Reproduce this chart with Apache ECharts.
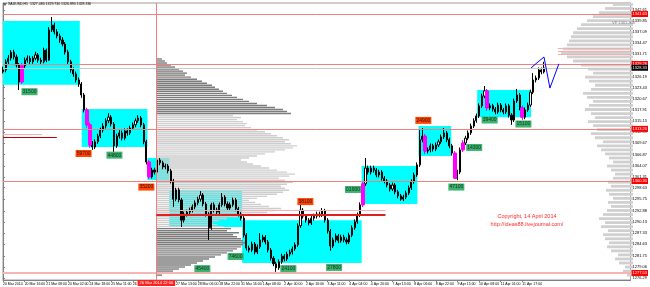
<!DOCTYPE html>
<html><head><meta charset="utf-8">
<script src="https://cdn.jsdelivr.net/npm/echarts@6/dist/echarts.min.js"></script>
<style>html,body{margin:0;padding:0;background:#fff}#c{width:650px;height:287px}</style>
</head><body><div id="c"></div>
<script>
// ---------- data ----------
const xTickLabels = ["20 Mar 2014","20 Mar 16:00","21 Mar 08:00","24 Mar 02:00","24 Mar 18:00","25 Mar 11:00","26 Mar 03:00","","27 Mar 13:00","28 Mar 06:00","28 Mar 22:00","31 Mar 16:00","1 Apr 08:00","2 Apr 00:00","2 Apr 16:00","3 Apr 11:00","4 Apr 04:00","4 Apr 20:00","7 Apr 13:00","8 Apr 06:00","8 Apr 22:00","9 Apr 15:00","10 Apr 08:00","11 Apr 01:00","11 Apr 17:00"];
const yTicks = [1276.29,1279.06,1281.75,1284.63,1287.33,1290.13,1292.88,1295.75,1298.63,1301.31,1304.07,1306.87,1309.67,1312.39,1315.15,1317.91,1320.67,1323.43,1326.19,1331.71,1334.47,1337.09,1339.85,1342.61];
// 2-hour candles: [open, close, low, high]
const candles = [
[1327.3,1327.8,1326.9,1328.6],[1327.8,1329.8,1327.2,1330.4],[1329.8,1330.7,1329.2,1331.5],[1330.7,1332.2,1330.1,1332.7],
[1332.2,1331.0,1330.4,1332.8],[1331.0,1329.0,1328.4,1331.6],[1329.0,1324.8,1322.8,1329.5],[1324.8,1328.8,1324.3,1329.4],
[1328.8,1330.2,1328.3,1330.9],[1330.2,1330.7,1329.6,1331.4],[1330.7,1329.8,1329.1,1331.3],[1329.8,1330.7,1329.3,1331.2],
[1330.7,1331.5,1330.2,1332.3],[1331.5,1330.2,1329.6,1332.0],[1330.2,1329.8,1329.0,1330.8],[1329.8,1332.7,1329.4,1333.3],
[1332.7,1330.2,1329.7,1333.1],[1330.2,1337.7,1330.0,1338.4],[1337.7,1338.9,1337.2,1340.9],[1338.9,1337.2,1336.6,1339.5],
[1337.2,1336.2,1335.6,1337.9],[1336.2,1335.2,1334.5,1336.8],[1335.2,1334.2,1333.6,1335.9],[1334.2,1332.2,1331.6,1334.7],
[1332.2,1329.8,1329.1,1332.8],[1329.8,1327.8,1327.1,1330.3],[1327.8,1326.8,1326.1,1328.4],[1326.8,1325.3,1324.7,1327.4],
[1325.3,1324.3,1323.6,1325.9],[1324.3,1321.6,1320.9,1324.8],[1321.6,1317.9,1317.3,1322.1],[1317.9,1314.2,1313.6,1318.4],
[1314.2,1309.2,1308.6,1314.7],[1309.2,1308.7,1308.0,1310.2],[1308.7,1310.0,1308.2,1310.6],[1310.0,1311.4,1309.5,1312.0],
[1311.4,1312.9,1310.9,1313.5],[1312.9,1313.9,1312.3,1314.6],[1313.9,1315.2,1313.3,1315.8],[1315.2,1316.1,1314.6,1317.1],
[1316.1,1314.4,1313.8,1316.6],[1314.4,1309.0,1306.2,1314.9],[1309.0,1311.4,1308.5,1312.0],[1311.4,1312.2,1310.8,1312.9],
[1312.2,1310.9,1310.3,1312.8],[1310.9,1312.7,1310.4,1313.3],[1312.7,1312.2,1311.5,1313.3],[1312.2,1313.4,1311.7,1314.0],
[1313.4,1314.2,1312.9,1314.8],[1314.2,1315.2,1313.6,1315.8],[1315.2,1315.9,1314.7,1316.6],[1315.9,1314.2,1313.6,1316.4],
[1314.2,1310.0,1309.4,1314.7],[1310.0,1305.0,1304.4,1310.5],[1305.0,1301.3,1300.8,1305.5],[1301.3,1303.0,1300.9,1303.6],
[1303.0,1302.5,1301.9,1303.6],[1302.5,1305.5,1302.0,1306.2],[1305.5,1304.8,1304.2,1306.0],[1304.8,1303.8,1303.2,1305.3],
[1303.8,1304.0,1303.2,1304.6],[1304.0,1302.8,1302.2,1304.5],[1302.8,1300.3,1299.7,1303.3],[1300.3,1295.8,1293.9,1300.8],
[1295.8,1298.1,1295.3,1298.6],[1298.1,1295.6,1295.0,1298.6],[1295.6,1290.6,1288.9,1296.1],[1290.6,1292.1,1290.0,1292.7],
[1292.1,1292.6,1291.5,1293.2],[1292.6,1293.1,1292.0,1293.7],[1293.1,1293.9,1292.5,1294.5],[1293.9,1294.9,1293.3,1295.5],
[1294.9,1295.8,1294.3,1296.4],[1295.8,1296.8,1295.2,1297.8],[1296.8,1294.6,1294.0,1297.3],[1294.6,1292.1,1291.5,1295.1],
[1292.1,1288.7,1285.7,1292.6],[1288.7,1294.4,1288.2,1294.9],[1294.4,1293.1,1292.5,1295.0],[1293.1,1292.6,1292.0,1293.7],
[1292.6,1294.4,1292.1,1295.0],[1294.4,1296.3,1293.9,1297.3],[1296.3,1294.6,1294.0,1296.8],[1294.6,1293.6,1293.0,1295.2],
[1293.6,1294.4,1293.0,1295.0],[1294.4,1295.6,1293.9,1296.2],[1295.6,1293.4,1292.8,1296.1],[1293.4,1292.1,1291.5,1293.9],
[1292.1,1291.1,1290.5,1292.6],[1291.1,1286.9,1286.3,1291.6],[1286.9,1283.7,1283.1,1287.4],[1283.7,1283.2,1282.6,1284.3],
[1283.2,1284.7,1282.7,1285.3],[1284.7,1282.7,1282.1,1285.2],[1282.7,1284.0,1282.2,1284.6],[1284.0,1285.7,1283.5,1287.4],
[1285.7,1286.4,1285.1,1287.0],[1286.4,1285.2,1284.6,1286.9],[1285.2,1283.2,1282.6,1285.7],[1283.2,1281.2,1280.6,1283.7],
[1281.2,1279.8,1279.2,1281.7],[1279.8,1278.8,1277.8,1280.3],[1278.8,1280.3,1278.3,1280.9],[1280.3,1281.7,1279.8,1282.3],
[1281.7,1281.0,1280.4,1282.2],[1281.0,1282.2,1280.5,1282.8],[1282.2,1282.7,1281.6,1283.3],[1282.7,1283.5,1282.1,1284.1],
[1283.5,1284.5,1283.0,1285.1],[1284.5,1289.2,1284.0,1289.8],[1289.2,1293.1,1288.7,1294.4],[1293.1,1291.6,1291.0,1293.6],
[1291.6,1290.6,1290.0,1292.1],[1290.6,1289.9,1289.3,1291.1],[1289.9,1291.1,1289.4,1291.7],[1291.1,1291.6,1290.5,1292.2],
[1291.6,1292.1,1291.0,1292.7],[1292.1,1291.9,1291.3,1292.7],[1291.9,1292.9,1291.4,1293.6],[1292.9,1290.6,1290.0,1293.4],
[1290.6,1287.9,1287.3,1291.1],[1287.9,1284.2,1283.0,1288.4],[1284.2,1285.7,1283.7,1286.3],[1285.7,1286.7,1285.1,1287.3],
[1286.7,1285.5,1284.9,1287.2],[1285.5,1286.4,1285.0,1287.0],[1286.4,1285.7,1285.1,1287.0],[1285.7,1285.2,1284.6,1286.3],
[1285.2,1286.9,1284.7,1287.5],[1286.9,1288.7,1286.4,1289.3],[1288.7,1290.2,1288.2,1290.8],[1290.2,1291.9,1289.7,1292.5],
[1291.9,1294.4,1291.4,1295.0],[1294.4,1299.6,1293.9,1300.2],[1299.6,1303.5,1299.1,1306.0],[1303.5,1302.5,1301.9,1304.1],
[1302.5,1303.5,1301.9,1304.1],[1303.5,1303.0,1302.4,1304.1],[1303.0,1301.8,1301.2,1303.5],[1301.8,1302.5,1301.2,1303.1],
[1302.5,1301.0,1300.4,1303.0],[1301.0,1300.3,1299.7,1301.5],[1300.3,1299.3,1298.7,1300.8],[1299.3,1298.3,1297.7,1299.8],
[1298.3,1299.3,1297.8,1299.9],[1299.3,1297.6,1297.0,1299.8],[1297.6,1296.6,1296.0,1298.1],[1296.6,1295.8,1295.4,1297.1],
[1295.8,1296.3,1295.3,1296.9],[1296.3,1297.3,1295.8,1297.9],[1297.3,1298.6,1296.8,1299.2],[1298.6,1300.1,1298.1,1300.7],
[1300.1,1301.8,1299.6,1302.4],[1301.8,1304.3,1301.3,1304.9],[1304.3,1310.5,1303.8,1312.9],[1310.5,1311.4,1309.9,1313.4],
[1311.4,1307.7,1307.1,1311.9],[1307.7,1308.0,1307.1,1308.6],[1308.0,1309.0,1307.4,1309.6],[1309.0,1308.2,1307.6,1309.5],
[1308.2,1309.2,1307.7,1309.8],[1309.2,1310.0,1308.7,1310.6],[1310.0,1311.2,1309.5,1311.8],[1311.2,1312.2,1310.7,1313.4],
[1312.2,1310.5,1309.9,1312.7],[1310.5,1309.0,1308.4,1311.0],[1309.0,1307.2,1306.6,1309.5],[1307.2,1301.0,1300.8,1307.7],
[1301.0,1302.5,1300.5,1303.1],[1302.5,1308.0,1302.0,1308.6],[1308.0,1309.7,1307.5,1310.3],[1309.7,1310.9,1309.2,1311.5],
[1310.9,1312.2,1310.4,1312.8],[1312.2,1313.9,1311.7,1314.5],[1313.9,1315.2,1313.4,1315.8],[1315.2,1316.4,1314.7,1317.0],
[1316.4,1318.9,1315.9,1319.5],[1318.9,1321.3,1318.4,1321.9],[1321.3,1322.6,1320.8,1323.8],[1322.6,1318.4,1317.8,1323.0],
[1318.4,1318.9,1317.8,1319.5],[1318.9,1318.1,1317.5,1319.4],[1318.1,1317.4,1316.8,1318.6],[1317.4,1319.1,1316.9,1319.7],
[1319.1,1317.9,1317.3,1319.6],[1317.9,1317.4,1316.8,1318.4],[1317.4,1318.9,1316.9,1319.5],[1318.9,1316.6,1316.0,1319.4],
[1316.6,1315.4,1314.2,1317.1],[1315.4,1320.1,1314.9,1320.7],[1320.1,1321.6,1319.6,1323.1],[1321.6,1318.4,1317.8,1322.1],
[1318.4,1316.1,1315.5,1318.9],[1316.1,1317.9,1315.6,1318.5],[1317.9,1319.1,1317.4,1319.7],[1319.1,1322.3,1318.6,1322.9],
[1322.3,1325.3,1321.8,1327.0],[1325.3,1325.8,1324.7,1326.4],[1325.8,1327.8,1325.3,1328.4],[1327.8,1327.3,1326.7,1328.4],
[1327.3,1328.3,1326.9,1329.8]
];
const magentaIdx = [7,31,32,54,133,156,167,170,179,192];
// cyan zones: [xStart, priceTop, xEnd, priceBottom] (x in 2h-bar index)
const zones = [[0,1339.9,28.4,1324.1],[29.1,1318.1,53.4,1308.7],[53.4,1306.0,61.5,1300.5],[61.5,1298.1,88.4,1288.9],
  [88.4,1290.6,132.6,1280.0],[132.6,1304.0,153.2,1294.6],[153.6,1313.9,165.7,1306.5],[175.3,1322.8,195.2,1316.1]];
// volume tags: [x, price, text, kind]
const tags = [[9.8,1322.4,'31500','g'],[29.8,1307.1,'59700','r'],[41.2,1306.7,'44800','g'],[53.0,1298.8,'35200','r'],
  [73.7,1278.6,'45400','g'],[86.0,1281.6,'74600','g'],[105.5,1278.6,'24100','g'],[122.4,1278.9,'27800','g'],
  [111.8,1295.2,'38100','r'],[129.4,1298.2,'01900','g'],[155.4,1315.3,'24900','r'],[167.6,1298.8,'47100','g'],
  [174.2,1308.6,'14300','g'],[179.9,1315.4,'39400','g'],[192.4,1314.4,'15100','g']];
const redLevels = [1341.63,1329.26,1313.2,1300.30];
const bottomLevel = 1277.53;
const lastPrice = 1328.33;
const sepX = 56.7, sepLabel = '26 Mar 2014 22:00';
const projX = [195.2,200.0,202.2,205.5];
const projY = [1328.3,1331.0,1323.3,1329.3];
const prof1Start = 1277.0, prof1Step = 0.5;
const prof1Vol = [5,10,16,22, 28,34,40,46, 52,58,64,70, 76,80,84,86, 88,86,84,80, 76,82,70,74, 66,60,56,62,
  70,82,95,110, 118,124,112,104, 98,92,100,110, 120,126,132,128, 124,130,136,128, 122,132,138,130, 120,112,104,96,
  90,84,92,100, 108,118,128,136, 140,134,128,132, 126,120,114,108, 100,94,88,90, 86,80,84,76, 134,130,126,118,
  110,100,92,86, 80,75,70,66, 62,58,55,50, 45,40,34,28, 30,26,22,18, 14,10,8,5];
const prof1DarkBelow = 1288.5, prof1DarkAbove = 1317.0;
const prof2Start = 1277, prof2Step = 1;
const prof2Vol = [6,10,8,14,18,15,22,26,24,28,30,25,32,28,34,30,26,22,25,20,24,27,22,25,20,18,22,26,20,24,28,32,36,30,
  38,42,36,40,45,38,42,48,44,40,46,50,42,38,44,48,40,45,52,60,66,72,70,66,64,62,60,56,52,46,40,34,28,20];

// ---------- chart ----------
const N = 233, YMIN = 1275.79, YMAX = 1344.36;
const cats = Array.from({length: N}, (_, i) => String(i));
const showTick = (i) => i % 8 === 0 && i / 8 < xTickLabels.length && xTickLabels[i / 8] !== '';
const chart = echarts.init(document.getElementById('c'));

function profileRender(colorFn, h) {
  return function (params, api) {
    const vol = api.value(0), lvl = api.value(1);
    const a = api.coord([0, lvl]), b = api.coord([vol, lvl]);
    return {type: 'rect', shape: {x: Math.min(a[0], b[0]), y: a[1] - h / 2, width: Math.abs(b[0] - a[0]), height: h},
      style: {fill: colorFn(lvl)}};
  };
}
const axisTag = (txt, bg) => ({show: true, position: 'end', distance: 1, formatter: txt, backgroundColor: bg, color: '#fff', fontSize: 4, padding: [1, 1]});

const magentaData = candles.map((c, i) => magentaIdx.includes(i) ? c : '-');
const hLines = redLevels.map(v => ({yAxis: v, lineStyle: {color: '#f08080', width: 1, type: 'solid'}, label: axisTag(v.toFixed(2), '#ff0000')}));
hLines.push({yAxis: bottomLevel, lineStyle: {color: '#f6b4b4', width: 2, type: 'solid'}, label: axisTag(bottomLevel.toFixed(2), '#ff0000')});
hLines.push({yAxis: lastPrice, lineStyle: {color: '#c8c8c8', width: 1, type: 'solid'}, label: axisTag(lastPrice.toFixed(2), '#000000')});
hLines.push({xAxis: sepX, lineStyle: {color: '#f08080', width: 1, type: 'solid'},
  label: {show: true, position: 'start', distance: 0, formatter: sepLabel, backgroundColor: '#ff2020', color: '#fff', fontSize: 4, padding: [1, 2]}});
const segs = [
  [[sepX, 1293.1], [141.4, 1293.1], '#f4b0b0', 1],
  [[sepX, 1291.9], [141.4, 1291.9], '#e02020', 2],
  [[0, 1311.9], [14.4, 1311.9], '#f4b0b0', 1],
  [[0, 1311.2], [19.9, 1311.2], '#c00000', 1],
  [[205.1, 1333.2], [232, 1333.2], '#f4b0b0', 1],
  [[205.1, 1332.5], [232, 1332.5], '#f4b0b0', 1],
  [[205.1, 1331.7], [232, 1331.7], '#f4b0b0', 1]
];
segs.forEach(s => hLines.push([{coord: s[0], lineStyle: {color: s[2], width: s[3], type: 'solid'}, label: {show: false}}, {coord: s[1]}]));

chart.setOption({
  animation: false,
  backgroundColor: '#ffffff',
  grid: [
    {left: 3, right: 17, top: 3, bottom: 7, show: true, borderColor: '#9a9a9a', borderWidth: 1},
    {left: 157, right: 17, top: 3, bottom: 7},
    {left: 3, right: 17, top: 3, bottom: 7}
  ],
  xAxis: [
    {type: 'category', gridIndex: 0, data: cats, boundaryGap: false,
      axisLine: {lineStyle: {color: '#808080'}},
      axisTick: {interval: showTick, length: 2, lineStyle: {color: '#808080'}},
      axisLabel: {interval: showTick, showMinLabel: true, hideOverlap: false, formatter: (v, i) => xTickLabels[i / 8], fontSize: 3.5, color: '#000', align: 'left', margin: 2},
      splitLine: {show: false}},
    {type: 'value', gridIndex: 0, min: 0, max: N - 1, show: false},
    {type: 'value', gridIndex: 1, min: 0, max: 476, show: false},
    {type: 'value', gridIndex: 2, min: 0, max: 630, inverse: true, show: false}
  ],
  yAxis: [
    {type: 'value', gridIndex: 0, position: 'right', min: YMIN, max: YMAX,
      axisLine: {show: true, lineStyle: {color: '#808080'}},
      axisTick: {show: true, customValues: yTicks, length: 2, lineStyle: {color: '#808080'}},
      axisLabel: {customValues: yTicks, fontSize: 4, margin: 2, color: '#000', formatter: v => Number(v).toFixed(2)},
      splitLine: {show: false}},
    {type: 'value', gridIndex: 1, min: YMIN, max: YMAX, show: false},
    {type: 'value', gridIndex: 2, min: YMIN, max: YMAX, show: false}
  ],
  series: [
    {type: 'scatter', xAxisIndex: 1, yAxisIndex: 0, data: [], z: 1, silent: true,
      markArea: {silent: true, itemStyle: {color: '#00ffff'}, data: zones.map(z => [{coord: [z[0], z[1]]}, {coord: [z[2], z[3]]}])}},
    {type: 'custom', xAxisIndex: 3, yAxisIndex: 2, z: 2, silent: true, clip: true,
      data: prof2Vol.map((v, i) => [v, prof2Start + i * prof2Step]),
      renderItem: profileRender(() => '#d0d0d0', 2.8)},
    {type: 'custom', xAxisIndex: 2, yAxisIndex: 1, z: 2, silent: true, clip: true,
      data: prof1Vol.map((v, i) => [v, prof1Start + i * prof1Step]),
      renderItem: profileRender(l => (l <= prof1DarkBelow || l >= prof1DarkAbove) ? '#7c7c7c' : '#cdcdcd', 1.4)},
    {type: 'candlestick', xAxisIndex: 0, yAxisIndex: 0, data: candles, z: 3, barWidth: 1.6,
      itemStyle: {color: '#ffffff', color0: '#000000', borderColor: '#000000', borderColor0: '#000000', borderWidth: 1}},
    {type: 'candlestick', xAxisIndex: 0, yAxisIndex: 0, data: magentaData, z: 4, barWidth: 3.4,
      itemStyle: {color: '#ff00ff', color0: '#ff00ff', borderColor: '#ff00ff', borderColor0: '#ff00ff', borderWidth: 1}},
    {type: 'scatter', xAxisIndex: 1, yAxisIndex: 0, data: [], z: 5, silent: true,
      markLine: {silent: true, symbol: ['none', 'none'], lineStyle: {type: 'solid'}, data: hLines}},
    {type: 'line', xAxisIndex: 1, yAxisIndex: 0, z: 6, symbol: 'none', silent: true,
      data: projX.map((x, i) => [x, projY[i]]), lineStyle: {color: '#0000ff', width: 1}},
    {type: 'scatter', xAxisIndex: 1, yAxisIndex: 0, data: [], z: 7, silent: true,
      markPoint: {silent: true, data: tags.map(t => ({coord: [t[0], t[1]], symbol: 'rect', symbolSize: [16, 7],
        itemStyle: {color: t[3] === 'g' ? '#3cb371' : '#ff4500'},
        label: {show: true, position: 'inside', formatter: t[2], fontSize: 5, color: t[3] === 'g' ? '#103010' : '#3a0a00'}}))}}
  ],
  graphic: [
    {type: 'text', x: 8, y: 2, z: 10, style: {text: 'XAUUSD,H1  1327.480 1329.730 1326.890 1328.330', fontSize: 3.5, fill: '#000'}},
    {type: 'polygon', z: 10, shape: {points: [[3, 3], [7, 3], [5, 6]]}, style: {fill: '#606060'}},
    {type: 'text', x: 612, y: 21, z: 10, style: {text: 'VP 1301.440', fontSize: 4, fill: '#808080'}},
    {type: 'text', x: 527, y: 213, z: 10, style: {text: 'Copyright, 14 April 2014', fontSize: 5.5, fill: '#ff2a2a', align: 'center'}},
    {type: 'text', x: 527, y: 221, z: 10, style: {text: 'http://ideas88.livejournal.com/', fontSize: 5.5, fill: '#ff2a2a', align: 'center'}}
  ]
});
</script>
</body></html>
